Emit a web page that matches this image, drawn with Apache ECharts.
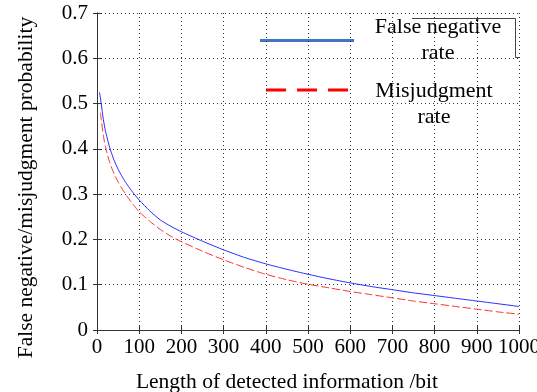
<!DOCTYPE html>
<html>
<head>
<meta charset="utf-8">
<script src="https://cdn.jsdelivr.net/npm/echarts@6/dist/echarts.min.js"></script>
<style>html,body{margin:0;padding:0;background:#fff}#c{width:537px;height:392px}</style>
</head>
<body>
<div id="c"></div>
<script>
var seriesNames = ['False negative\nrate', 'Misjudgment\nrate'];
var falseNegX = [6, 10, 15, 20, 30, 40, 50, 60, 70, 80, 90, 100, 125, 150, 175, 200, 250, 300, 350, 400, 450, 500, 550, 600, 650, 700, 750, 800, 850, 900, 950, 1000];
var falseNegY = [0.525, 0.50, 0.465, 0.44, 0.403, 0.376, 0.355, 0.338, 0.323, 0.31, 0.298, 0.287, 0.263, 0.243, 0.229, 0.217, 0.196, 0.177, 0.16, 0.146, 0.134, 0.123, 0.113, 0.104, 0.096, 0.089, 0.082, 0.076, 0.07, 0.064, 0.058, 0.052];
var misjudgX = [8, 10, 15, 20, 30, 40, 50, 60, 70, 80, 90, 100, 125, 150, 175, 200, 250, 300, 350, 400, 450, 500, 550, 600, 650, 700, 750, 800, 850, 900, 950, 1000];
var misjudgY = [0.48, 0.465, 0.43, 0.405, 0.37, 0.346, 0.327, 0.311, 0.297, 0.284, 0.272, 0.261, 0.24, 0.222, 0.207, 0.195, 0.174, 0.155, 0.138, 0.123, 0.111, 0.101, 0.093, 0.085, 0.078, 0.071, 0.064, 0.058, 0.052, 0.046, 0.040, 0.035];
var xTicks = [0, 100, 200, 300, 400, 500, 600, 700, 800, 900, 1000];
var yTicks = [0, 0.1, 0.2, 0.3, 0.4, 0.5, 0.6, 0.7];

function pairs(xs, ys) { return xs.map(function (x, i) { return [x, ys[i]]; }); }

var font = 'Liberation Serif';
var chart = echarts.init(document.getElementById('c'), null, {renderer: 'canvas'});
var gridLine = {show: true, lineStyle: {color: '#333', type: [1, 3], width: 1}};
var axisLine = {show: true, lineStyle: {color: '#333', width: 1}};
var tick = {show: true, inside: true, length: 4, lineStyle: {color: '#333'}};
chart.setOption({
  animation: false,
  backgroundColor: '#fff',
  grid: {left: 97, right: 18, top: 13, bottom: 62, containLabel: false, outerBoundsMode: 'none'},
  xAxis: [{
    type: 'value', min: xTicks[0], max: xTicks[xTicks.length - 1], interval: 100,
    name: 'Length of detected information /bit', nameLocation: 'middle', nameGap: 41,
    nameTextStyle: {fontFamily: font, fontSize: 21.5, color: '#000', padding: [0, 42, 0, 0]},
    axisLine: axisLine, axisTick: tick,
    axisLabel: {fontFamily: font, fontSize: 21, color: '#000', margin: 7, showMaxLabel: true,
      formatter: function (v) { return String(v); }},
    splitLine: gridLine
  }, {
    type: 'value', position: 'top', min: xTicks[0], max: xTicks[xTicks.length - 1], interval: 100,
    axisLine: axisLine, axisTick: tick,
    axisLabel: {show: false}, splitLine: {show: false}
  }],
  yAxis: [{
    type: 'value', min: yTicks[0], max: yTicks[yTicks.length - 1], interval: 0.1,
    name: 'False negative/misjudgment probability', nameLocation: 'middle', nameGap: 60,
    nameTextStyle: {fontFamily: font, fontSize: 21.5, color: '#000', padding: [0, 0, 0, -32]},
    axisLine: axisLine, axisTick: tick,
    axisLabel: {fontFamily: font, fontSize: 21, color: '#000', margin: 9,
      formatter: function (v) { return v === 0 ? '0' : v.toFixed(1); }},
    splitLine: gridLine
  }, {
    type: 'value', position: 'right', min: yTicks[0], max: yTicks[yTicks.length - 1], interval: 0.1,
    axisLine: axisLine, axisTick: tick,
    axisLabel: {show: false}, splitLine: {show: false}
  }],
  series: [{
    name: seriesNames[0], type: 'line', data: pairs(falseNegX, falseNegY), smooth: 0.2,
    showSymbol: false, lineStyle: {color: '#2a2aff', width: 1}
  }, {
    name: seriesNames[1], type: 'line', data: pairs(misjudgX, misjudgY), smooth: 0.2,
    showSymbol: false, lineStyle: {color: '#ff3030', width: 1, type: [8, 3]}
  }],
  graphic: [
    {type: 'line', shape: {x1: 260, y1: 40.5, x2: 354, y2: 40.5}, style: {stroke: '#4472c4', lineWidth: 3}},
    {type: 'line', shape: {x1: 266, y1: 90, x2: 348, y2: 90}, style: {stroke: '#ff0000', lineWidth: 3, lineDash: [20, 11]}},
    {type: 'text', x: 438, y: 40, style: {text: seriesNames[0], fontFamily: font, fontSize: 22, lineHeight: 26, fill: '#000', align: 'center', verticalAlign: 'middle', backgroundColor: '#fff'}},
    {type: 'text', x: 434, y: 104, style: {text: seriesNames[1], fontFamily: font, fontSize: 22, lineHeight: 26, fill: '#000', align: 'center', verticalAlign: 'middle', backgroundColor: '#fff'}},
    {type: 'polyline', shape: {points: [[412, 18.5], [515.5, 18.5], [515.5, 57.5], [519, 57.5]]}, style: {stroke: '#444', lineWidth: 1, fill: null}}
  ]
});
</script>
</body>
</html>
